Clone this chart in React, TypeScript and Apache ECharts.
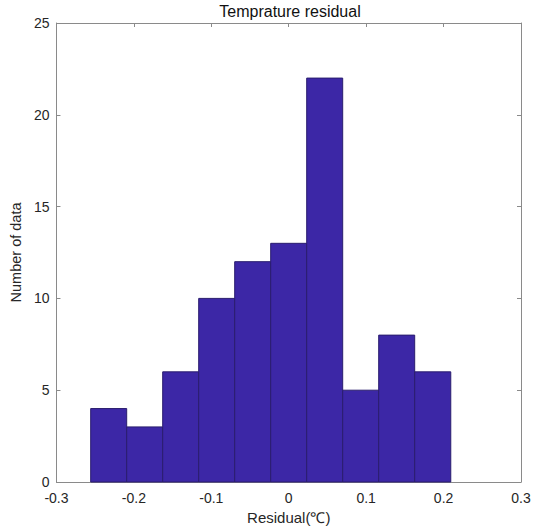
import React, { useEffect, useRef } from "react";
import * as echarts from "echarts";

const title = "Temprature residual";
const xName = "Residual(℃)";
const yName = "Number of data";
const binEdges = [-0.2558, -0.2093, -0.1628, -0.1163, -0.0698, -0.0233, 0.0232, 0.0697, 0.1162, 0.1627, 0.2093];
const counts = [4, 3, 6, 10, 12, 13, 22, 5, 8, 6];
const xTicks = [-0.3, -0.2, -0.1, 0, 0.1, 0.2, 0.3];
const yTicks = [0, 5, 10, 15, 20, 25];

export default function App() {
  const ref = useRef<HTMLDivElement>(null);
  useEffect(() => {
    if (!ref.current) return;
    const chart = echarts.init(ref.current, null, { renderer: "svg" });
    const font = "'Liberation Sans', Arial, sans-serif";
    const axisColor = "#8a8a8a";
    const textColor = "#262626";
    const data = counts.map((c, i) => [binEdges[i], binEdges[i + 1], c]);
    chart.setOption({
      animation: false,
      backgroundColor: "#ffffff",
      graphic: [
        {
          type: "text",
          x: 290,
          y: 11,
          style: {
            text: title,
            fontFamily: font,
            fontSize: 16,
            fill: "#111",
            textAlign: "center",
            textVerticalAlign: "middle",
          },
        },
      ],
      grid: { left: 55, right: 17, top: 23, bottom: 49, show: false },
      xAxis: [
        {
          type: "value",
          min: -0.3,
          max: 0.3,
          interval: 0.1,
          position: "bottom",
          name: xName,
          nameLocation: "middle",
          nameGap: 28,
          nameTextStyle: { fontFamily: font, fontSize: 15, color: textColor },
          axisLine: { show: true, onZero: false, lineStyle: { color: axisColor, width: 1 } },
          axisTick: { show: true, inside: true, length: 4, lineStyle: { color: axisColor } },
          splitLine: { show: false },
          axisLabel: {
            fontFamily: font,
            fontSize: 14,
            color: textColor,
            margin: 9,
            formatter: (v: number) => {
              const r = Math.round(v * 10) / 10;
              const found = xTicks.find((t) => Math.abs(t - r) < 1e-9);
              return found === undefined ? "" : String(found);
            },
          },
        },
        {
          type: "value",
          min: -0.3,
          max: 0.3,
          interval: 0.1,
          position: "top",
          axisLine: { show: true, onZero: false, lineStyle: { color: axisColor, width: 1 } },
          axisTick: { show: true, inside: true, length: 4, lineStyle: { color: axisColor } },
          axisLabel: { show: false },
          splitLine: { show: false },
        },
      ],
      yAxis: [
        {
          type: "value",
          min: 0,
          max: 25,
          interval: 5,
          position: "left",
          name: yName,
          nameLocation: "middle",
          nameGap: 28,
          nameTextStyle: { fontFamily: font, fontSize: 14.5, color: textColor },
          axisLine: { show: true, onZero: false, lineStyle: { color: axisColor, width: 1 } },
          axisTick: { show: true, inside: true, length: 4, lineStyle: { color: axisColor } },
          splitLine: { show: false },
          axisLabel: {
            fontFamily: font,
            fontSize: 14,
            color: textColor,
            margin: 7,
            formatter: (v: number) => (yTicks.includes(v) ? String(v) : ""),
          },
        },
        {
          type: "value",
          min: 0,
          max: 25,
          interval: 5,
          position: "right",
          axisLine: { show: true, onZero: false, lineStyle: { color: axisColor, width: 1 } },
          axisTick: { show: true, inside: true, length: 4, lineStyle: { color: axisColor } },
          axisLabel: { show: false },
          splitLine: { show: false },
        },
      ],
      series: [
        {
          type: "custom",
          xAxisIndex: 0,
          yAxisIndex: 0,
          data,
          encode: { x: [0, 1], y: 2 },
          renderItem: (params: any, api: any) => {
            const p0 = api.coord([api.value(0), api.value(2)]);
            const p1 = api.coord([api.value(1), 0]);
            return {
              type: "rect",
              shape: { x: p0[0], y: p0[1], width: p1[0] - p0[0], height: p1[1] - p0[1] },
              style: { fill: "#3c27a6", stroke: "#2a1d6e", lineWidth: 1 },
            };
          },
        },
      ],
    });
    return () => chart.dispose();
  }, []);
  return (
    <div
      ref={ref}
      style={{ position: "fixed", left: 0, top: 0, width: 538, height: 531, background: "#fff" }}
    />
  );
}
